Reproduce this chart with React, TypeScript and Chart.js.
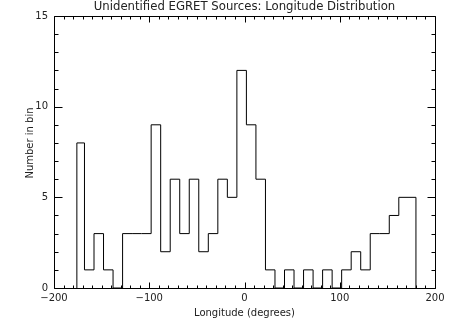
import React, { useEffect, useRef } from "react";
import { Chart, registerables } from "chart.js";

Chart.register(...registerables);

// Bin edges (degrees longitude) and counts per bin
const binEdges = [
  -176, -168, -158, -148, -138, -128, -118, -108, -98, -88, -78, -68, -58, -48,
  -38, -28, -18, -8, 2, 12, 22, 32, 42, 52, 62, 72, 82, 92, 102, 112, 122, 132,
  142, 152, 162, 180,
];
const binCounts = [
  8, 1, 3, 1, 0, 3, 3, 3, 9, 2, 6, 3, 6, 2, 3, 6, 5, 12, 9, 6, 1, 0, 1, 0, 1, 0,
  1, 0, 1, 2, 1, 3, 3, 4, 5,
];
const xTickValues = [-200, -100, 0, 100, 200];
const yTickValues = [0, 5, 10, 15];

const TITLE = "Unidentified EGRET Sources: Longitude Distribution";
const X_TITLE = "Longitude (degrees)";
const Y_TITLE = "Number in bin";
const FONT = "'DejaVu Sans', sans-serif";
const TEXT_COLOR = "#222";

const framePlugin = {
  id: "idlFrame",
  afterDraw(chart: any) {
    const { ctx, chartArea: a, scales } = chart;
    const x = scales.x;
    const y = scales.y;
    const L = Math.round(a.left) + 0.5;
    const R = Math.round(a.right) + 0.5;
    const T = Math.round(a.top) + 0.5;
    const B = Math.round(a.bottom) + 0.5;
    ctx.save();
    ctx.strokeStyle = "#000";
    ctx.lineWidth = 1;
    ctx.beginPath();
    ctx.rect(L, T, R - L, B - T);
    // x ticks (minor every 10, major every 100), inward on bottom and top
    for (let v = x.min; v <= x.max; v += 10) {
      const px = Math.round(x.getPixelForValue(v)) + 0.5;
      const len = v % 100 === 0 ? 6 : 3;
      ctx.moveTo(px, B);
      ctx.lineTo(px, B - len);
      ctx.moveTo(px, T);
      ctx.lineTo(px, T + len);
    }
    // y ticks (minor every 1, major every 5), inward on left and right
    for (let v = y.min; v <= y.max; v += 1) {
      const py = Math.round(y.getPixelForValue(v)) + 0.5;
      const len = v % 5 === 0 ? 8 : 4;
      ctx.moveTo(L, py);
      ctx.lineTo(L + len, py);
      ctx.moveTo(R, py);
      ctx.lineTo(R - len, py);
    }
    ctx.stroke();

    // title centred over the plot area
    ctx.fillStyle = TEXT_COLOR;
    ctx.textAlign = "center";
    ctx.textBaseline = "middle";
    ctx.font = `11.7px ${FONT}`;
    ctx.fillText(TITLE, (a.left + a.right) / 2, 7);

    // y-axis title
    ctx.font = `10px ${FONT}`;
    ctx.translate(30, 143);
    ctx.rotate(-Math.PI / 2);
    ctx.fillText(Y_TITLE, 0, 0);
    ctx.restore();
  },
};

export default function App() {
  const ref = useRef<HTMLCanvasElement | null>(null);

  useEffect(() => {
    document.body.style.margin = "0";
    const canvas = ref.current;
    if (!canvas) return;

    const points: { x: number; y: number }[] = [];
    points.push({ x: binEdges[0], y: 0 });
    binCounts.forEach((c, i) => points.push({ x: binEdges[i], y: c }));
    const last = binEdges[binEdges.length - 1];
    points.push({ x: last, y: binCounts[binCounts.length - 1] });
    points.push({ x: last, y: 0 });

    const chart = new Chart(canvas, {
      type: "line",
      data: {
        datasets: [
          {
            data: points,
            stepped: "before",
            borderColor: "#000",
            borderWidth: 1,
            pointRadius: 0,
            fill: false,
          },
        ],
      },
      options: {
        animation: false,
        responsive: false,
        maintainAspectRatio: false,
        layout: { padding: { left: 0, right: 17, top: 16, bottom: 0 } },
        plugins: {
          legend: { display: false },
          tooltip: { enabled: false },
          title: { display: false },
        },
        scales: {
          x: {
            type: "linear",
            min: -200,
            max: 200,
            afterFit: (s: any) => {
              s.height = 31;
            },
            afterBuildTicks: (s: any) => {
              s.ticks = xTickValues.map((v) => ({ value: v }));
            },
            grid: { display: false, drawTicks: false },
            border: { display: false },
            ticks: {
              padding: 4,
              color: TEXT_COLOR,
              maxRotation: 0,
              font: { family: FONT, size: 10 },
              callback: (v: any) => String(v).replace("-", "\u2212"),
            },
            title: {
              display: true,
              text: X_TITLE,
              color: TEXT_COLOR,
              font: { family: FONT, size: 10 },
              padding: { top: 0, bottom: 0 },
            },
          },
          y: {
            type: "linear",
            min: 0,
            max: 15,
            afterFit: (s: any) => {
              s.width = 54;
            },
            afterBuildTicks: (s: any) => {
              s.ticks = yTickValues.map((v) => ({ value: v }));
            },
            grid: { display: false, drawTicks: false },
            border: { display: false },
            ticks: {
              padding: 6,
              color: TEXT_COLOR,
              font: { family: FONT, size: 10 },
            },
          },
        },
      },
      plugins: [framePlugin],
    });

    return () => chart.destroy();
  }, []);

  return <canvas ref={ref} width={452} height={319} style={{ display: "block" }} />;
}
